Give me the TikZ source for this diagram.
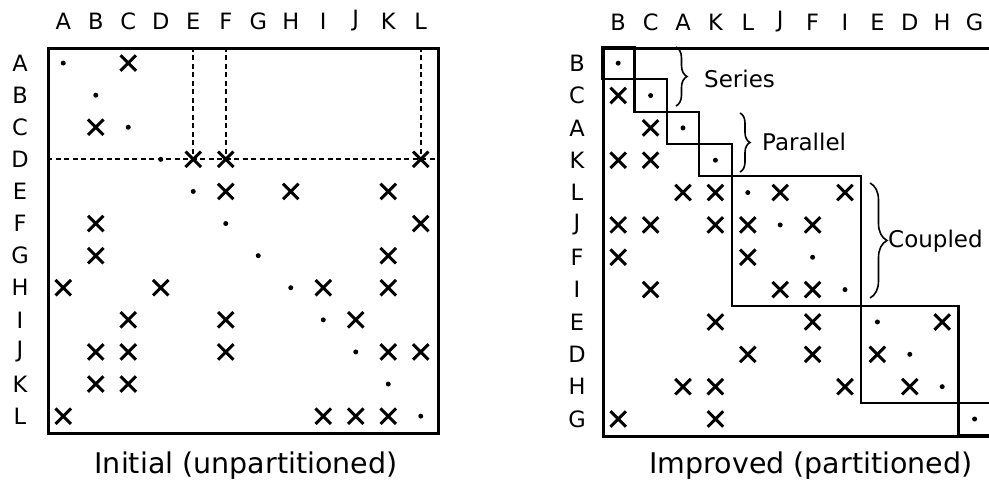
\documentclass[tikz,border=0pt]{standalone}
\usepackage{fontspec}
\setmainfont{DejaVu Sans}
\usetikzlibrary{shapes.misc,decorations.pathreplacing}
\begin{document}
\begin{tikzpicture}[x=1pt,y=-1pt,
  xmark/.style={draw, cross out, minimum size=12.5pt, inner sep=0pt, line width=3pt},
  dmark/.style={circle, fill, inner sep=0pt, minimum size=5pt},
  lbl/.style={font=\fontsize{22.5}{23}\selectfont, inner sep=0pt},
  blbl/.style={font=\fontsize{23}{23}\selectfont, inner sep=0pt, anchor=west},
  capt/.style={font=\fontsize{28.5}{29}\selectfont, inner sep=0pt},
  frm/.style={draw, line width=3.4pt, inner sep=0pt, anchor=north west},
  blk/.style={line width=2.2pt},
  dsh/.style={dash pattern=on 5pt off 3.5pt, line width=1.7pt},
  brc/.style={decorate, decoration={brace, amplitude=#1}, line width=1.6pt},
]
\useasboundingbox (0,0) rectangle (989,486);
\def\LX{47}\def\LW{32.5}\def\LY{47}\def\LH{32.1}
\def\RX{602}\def\RW{32.4}\def\RY{47}\def\RH{32.35}
% ---------- left matrix ----------
\node[frm, minimum width=390pt, minimum height=385pt] (lframe) at (47,47) {};
\foreach \l [count=\i] in {A,B,C,D,E,F,G,H,I,J,K,L} {
  \node[lbl] (lc-\l) at ({\LX+\LW*(\i-0.5)},21) {\l};
  \node[lbl] (lr-\l) at (20,{\LY+\LH*(\i-0.5)}) {\l};
  \node[dmark] (ld-\i) at ({\LX+\LW*(\i-0.5)},{\LY+\LH*(\i-0.5)}) {};
}
\foreach \r/\c in {1/3,3/2,4/5,4/6,4/12,5/6,5/8,5/11,6/2,6/12,7/2,7/11,
  8/1,8/4,8/9,8/11,9/3,9/6,9/10,10/2,10/3,10/6,10/11,10/12,11/2,11/3,
  12/1,12/9,12/10,12/11}
  \node[xmark] (lx-\r-\c) at ({\LX+\LW*(\c-0.5)},{\LY+\LH*(\r-0.5)}) {};
\draw[dsh] (lframe.west |- ld-4) -- (lframe.east |- ld-4);
\foreach \c in {5,6,12}
  \draw[dsh] (lx-4-\c |- lframe.north) -- (lx-4-\c.center);
\node[capt] (lcap) at (246,466) {Initial (unpartitioned)};
% ---------- right matrix ----------
\node[frm, minimum width=391pt, minimum height=388pt] (rframe) at (602,47) {};
\foreach \l [count=\i] in {B,C,A,K,L,J,F,I,E,D,H,G} {
  \node[lbl] (rc-\l) at ({\RX+\RW*(\i-0.5)},22) {\l};
  \node[lbl] (rr-\l) at (577,{\RY+\RH*(\i-0.5)}) {\l};
  \node[dmark] (rd-\i) at ({\RX+\RW*(\i-0.5)},{\RY+\RH*(\i-0.5)}) {};
}
\foreach \r/\c in {2/1,3/2,4/1,4/2,5/3,5/4,5/6,5/8,6/1,6/2,6/4,6/5,6/7,
  7/1,7/5,8/2,8/6,8/7,9/4,9/7,9/11,10/5,10/7,10/9,11/3,11/4,11/8,11/10,
  12/1,12/4}
  \node[xmark] (rx-\r-\c) at ({\RX+\RW*(\c-0.5)},{\RY+\RH*(\r-0.5)}) {};
\foreach \s/\e in {0/1,1/2,2/3,3/4,4/8,8/11}
  \draw[blk] ({\RX+\RW*\s},{\RY+\RH*\s}) rectangle ({\RX+\RW*\e},{\RY+\RH*\e});
\draw[blk] ({\RX+\RW*11},{\RY+\RH*11}) rectangle (993,{\RY+\RH*12});
\coordinate (s1) at (676,47); \coordinate (s2) at (676,106);
\coordinate (p1) at (740,113); \coordinate (p2) at (740,172);
\coordinate (c1) at (870,183); \coordinate (c2) at (870,298);
\draw[brc=11pt] (s1) -- (s2);
\draw[brc=10pt] (p1) -- (p2);
\draw[brc=17pt] (c1) -- (c2);
\node[blbl] (series) at (704,79) {Series};
\node[blbl] (parallel) at (762,142) {Parallel};
\node[blbl] (coupled) at (888,241) {Coupled};
\node[capt] (rcap) at (811,466) {Improved (partitioned)};
\end{tikzpicture}
\end{document}
